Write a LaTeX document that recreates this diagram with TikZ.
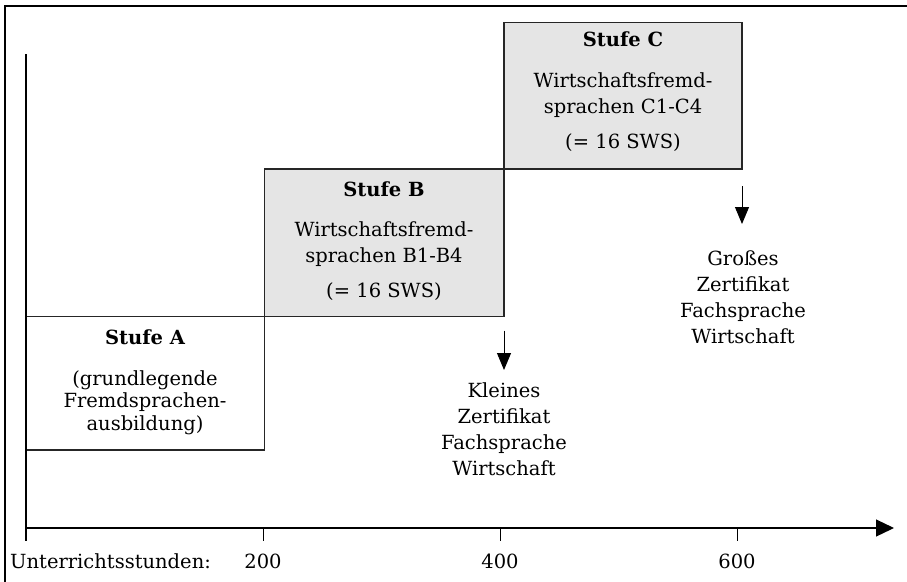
\documentclass[tikz,border=0pt]{standalone}
\usepackage{fontspec}
\setmainfont{DejaVu Serif}
\usetikzlibrary{arrows.meta}
\tikzset{
  x=1pt, y=-1pt,
  stufebox/.style={draw=black!85, line width=1.1pt},
  graybox/.style={stufebox, fill=black!10},
  txt/.style={font=\fontsize{19.5}{26}\selectfont, align=center, inner sep=0pt, anchor=base},
  txtA/.style={txt, font=\fontsize{19.5}{22.5}\selectfont},
  ttl/.style={font=\fontsize{19.5}{26}\selectfont\bfseries, inner sep=0pt, anchor=base},
  axis/.style={line width=1.2pt},
  tick/.style={line width=1pt},
  pointer/.style={line width=1pt, -{Triangle[length=17pt,width=14pt]}},
}
\begin{document}
\begin{tikzpicture}
\useasboundingbox (0,0) rectangle (907,581);
% frame
\draw[line width=2pt] (5,600) -- (5,6) -- (920,6);
% boxes
\draw[stufebox, fill=white] (26,316.5) rectangle (264.5,450);
\draw[graybox] (264.5,169) rectangle (504,316.5);
\draw[graybox] (504,22.5) rectangle (742,169);
\coordinate (Bse) at (504,316.5);
\coordinate (Cse) at (742,169);
% axes
\coordinate (o) at (26,528);
\coordinate (ytop) at (26,54);
\coordinate (ybot) at (26,541);
\coordinate (xend) at (894,528);
\draw[axis] (ytop) -- (ybot);
\draw[axis, -{Triangle[length=18pt,width=17pt]}] (o) -- (xend);
\foreach \x in {263,500,737} \draw[tick] (\x,528) -- (\x,541);
\node[txt, anchor=base west] (ulabel) at (10,568) {Unterrichtsstunden:};
\node[txt] (t200) at (263,568) {200};
\node[txt] (t400) at (500,568) {400};
\node[txt] (t600) at (737,568) {600};
% box A text
\node[ttl] (Ah) at (145,344) {Stufe A};
\node[txtA] (At) at (145,430) {(grundlegende\\Fremdsprachen-\\ausbildung)};
% box B text
\node[ttl] (Bh) at (384,196) {Stufe B};
\node[txt] (Bt) at (384,262) {Wirtschaftsfremd-\\sprachen B1-B4};
\node[txt] (Bs) at (384,297) {(= 16 SWS)};
% box C text
\node[ttl] (Ch) at (623,46) {Stufe C};
\node[txt] (Ct) at (623,113) {Wirtschaftsfremd-\\sprachen C1-C4};
\node[txt] (Cs) at (623,148) {(= 16 SWS)};
% certificates
\node[txt] (klein) at (504,475) {Kleines\\Zertifikat\\Fachsprache\\Wirtschaft};
\node[txt] (gross) at (743,343) {Großes\\Zertifikat\\Fachsprache\\Wirtschaft};
\draw[pointer] ([yshift=-14pt]Bse) -- ([yshift=-53.5pt]Bse);
\draw[pointer] ([yshift=-17pt]Cse) -- ([yshift=-55pt]Cse);
\end{tikzpicture}
\end{document}
